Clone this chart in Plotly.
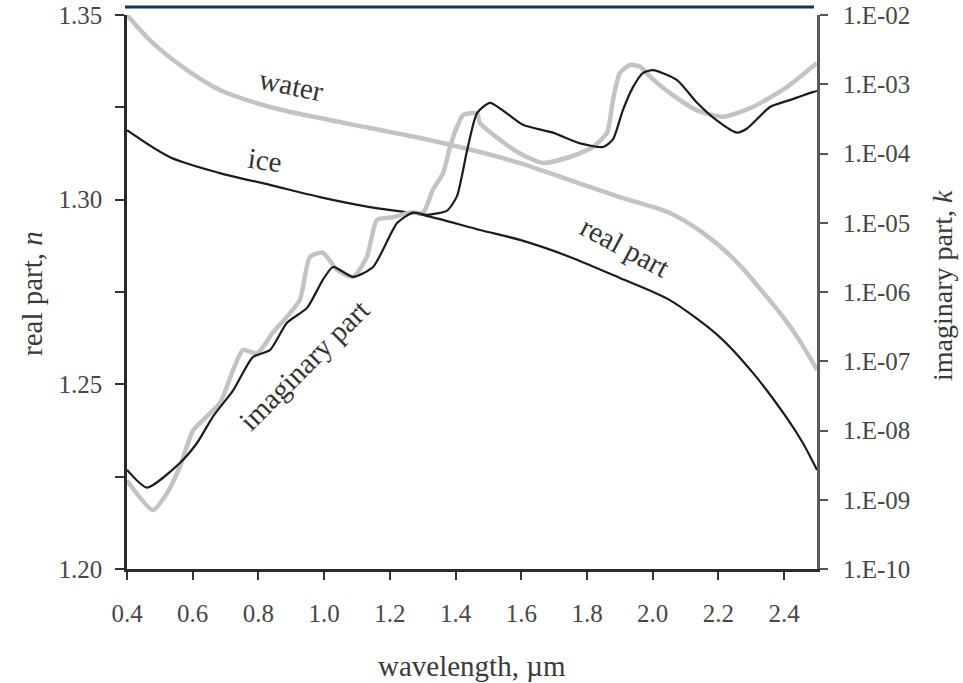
import plotly.graph_objects as go

# ---------------- data ----------------
wl_water_n = [0.40, 0.479, 0.583, 0.683, 0.835, 0.987, 1.139, 1.292, 1.474, 1.596,
              1.748, 1.900, 2.052, 2.153, 2.256, 2.317, 2.408, 2.457, 2.500]
water_n = [1.3500, 1.3424, 1.3351, 1.3297, 1.3251, 1.3221, 1.3194, 1.3167, 1.3129, 1.3099,
           1.3053, 1.3007, 1.2964, 1.2910, 1.2831, 1.2769, 1.2669, 1.2604, 1.2539]

wl_ice_n = [0.40, 0.531, 0.683, 0.835, 0.987, 1.139, 1.292, 1.474, 1.596, 1.748,
            1.900, 2.052, 2.204, 2.305, 2.408, 2.457, 2.500]
ice_n = [1.3188, 1.3115, 1.3072, 1.3040, 1.3007, 1.2980, 1.2960, 1.2918, 1.2891, 1.2845,
         1.2788, 1.2728, 1.2628, 1.2531, 1.2409, 1.2341, 1.2268]

wl_water_k = [0.40, 0.479, 0.522, 0.561, 0.601, 0.643, 0.683, 0.723, 0.753, 0.796,
              0.844, 0.887, 0.926, 0.957, 0.996, 1.039, 1.088, 1.130, 1.161, 1.209,
              1.261, 1.301, 1.331, 1.362, 1.383, 1.404, 1.423, 1.465, 1.474, 1.526,
              1.596, 1.666, 1.748, 1.818, 1.861, 1.879, 1.900, 1.931, 1.961, 1.991,
              2.052, 2.135, 2.214, 2.305, 2.408, 2.487, 2.500]
water_k = [1.9e-9, 7.1e-10, 1.25e-9, 3.0e-9, 1.0e-8, 1.6e-8, 2.5e-8, 7.5e-8, 1.45e-7, 1.3e-7,
           2.6e-7, 4.4e-7, 7.7e-7, 3.2e-6, 3.7e-6, 2.1e-6, 1.65e-6, 3.2e-6, 1.1e-5, 1.2e-5,
           1.4e-5, 1.4e-5, 3.0e-5, 5.2e-5, 1.24e-4, 2.4e-4, 3.6e-4, 3.8e-4, 2.75e-4, 1.7e-4,
           1.0e-4, 7.3e-5, 8.9e-5, 1.24e-4, 2.0e-4, 5.9e-4, 1.45e-3, 1.9e-3, 1.8e-3, 1.3e-3,
           7.5e-4, 4.2e-4, 3.4e-4, 4.7e-4, 9.1e-4, 1.8e-3, 2.0e-3]

wl_ice_k = [0.40, 0.461, 0.561, 0.613, 0.662, 0.723, 0.783, 0.835, 0.887, 0.948,
            0.996, 1.027, 1.088, 1.149, 1.222, 1.270, 1.313, 1.374, 1.404, 1.435,
            1.465, 1.505, 1.605, 1.696, 1.779, 1.849, 1.879, 1.909, 1.940, 1.970,
            2.001, 2.074, 2.135, 2.195, 2.256, 2.287, 2.357, 2.417, 2.487, 2.500]
ice_k = [2.7e-9, 1.5e-9, 3.4e-9, 6.6e-9, 1.6e-8, 3.8e-8, 1.15e-7, 1.45e-7, 3.6e-7, 5.9e-7,
         1.5e-6, 2.3e-6, 1.65e-6, 2.3e-6, 9.9e-6, 1.4e-5, 1.3e-5, 1.5e-5, 2.4e-5, 1.1e-4,
         3.8e-4, 5.4e-4, 2.6e-4, 2.0e-4, 1.4e-4, 1.24e-4, 1.6e-4, 4.2e-4, 9.1e-4, 1.45e-3,
         1.6e-3, 1.15e-3, 5.4e-4, 3.0e-4, 2.0e-4, 2.3e-4, 4.7e-4, 5.9e-4, 7.7e-4, 8.0e-4]

x_ticks = [0.4, 0.6, 0.8, 1.0, 1.2, 1.4, 1.6, 1.8, 2.0, 2.2, 2.4]
x_tick_labels = ["0.4", "0.6", "0.8", "1.0", "1.2", "1.4", "1.6", "1.8", "2.0", "2.2", "2.4"]
n_ticks = [1.20, 1.25, 1.30, 1.35]
n_tick_labels = ["1.20", "1.25", "1.30", "1.35"]
n_minor = [1.225, 1.275, 1.325]
k_ticks = [1e-10, 1e-9, 1e-8, 1e-7, 1e-6, 1e-5, 1e-4, 1e-3, 1e-2]
k_tick_labels = ["1.E-10", "1.E-09", "1.E-08", "1.E-07", "1.E-06", "1.E-05", "1.E-04", "1.E-03", "1.E-02"]

# ---------------- figure ----------------
FONT = "Liberation Serif, Times New Roman, serif"
GRAY = "#c3c3c3"
BLACK = "#1c1c1c"

fig = go.Figure()
fig.add_trace(go.Scatter(x=wl_water_n, y=water_n, mode="lines", yaxis="y",
                         line=dict(color=GRAY, width=4.5, shape="spline", smoothing=0.9),
                         name="water n", showlegend=False))
fig.add_trace(go.Scatter(x=wl_water_k, y=water_k, mode="lines", yaxis="y2",
                         line=dict(color=GRAY, width=4.5, shape="spline", smoothing=0.6),
                         name="water k", showlegend=False))
fig.add_trace(go.Scatter(x=wl_ice_n, y=ice_n, mode="lines", yaxis="y",
                         line=dict(color=BLACK, width=2.2, shape="spline", smoothing=0.8),
                         name="ice n", showlegend=False))
fig.add_trace(go.Scatter(x=wl_ice_k, y=ice_k, mode="lines", yaxis="y2",
                         line=dict(color=BLACK, width=2.2, shape="spline", smoothing=0.6),
                         name="ice k", showlegend=False))

L, R, T, B = 127, 146, 15, 114
W, H = 963, 683
pw, ph = W - L - R, H - T - B


def px(xp):
    return (xp - L) / pw


def py(yp):
    return (H - B - yp) / ph


tickfont = dict(family=FONT, size=25, color="#474747")

fig.update_layout(
    template="none",
    width=W, height=H,
    margin=dict(l=L, r=R, t=T, b=B, autoexpand=False),
    paper_bgcolor="white", plot_bgcolor="white",
    showlegend=False,
    xaxis=dict(range=[0.4, 2.5], tickvals=x_ticks, ticktext=x_tick_labels,
               ticks="outside", ticklen=8, tickwidth=2, tickcolor="#333",
               showline=True, linecolor="#2a2a2a", linewidth=3, automargin=False,
               showgrid=False, zeroline=False, tickfont=tickfont,
               ticklabelstandoff=12),
    yaxis=dict(range=[1.20, 1.35], tickvals=n_ticks, ticktext=n_tick_labels,
               ticks="outside", ticklen=9, tickwidth=2, tickcolor="#333",
               minor=dict(tickvals=n_minor, ticks="outside", ticklen=9, tickwidth=2, tickcolor="#333"),
               showline=True, linecolor="#2a2a2a", linewidth=2.5, automargin=False,
               showgrid=False, zeroline=False, tickfont=tickfont,
               ticklabelstandoff=8),
    yaxis2=dict(type="log", range=[-10, -2], overlaying="y", side="right", anchor="x",
                tickvals=k_ticks, ticktext=k_tick_labels,
                ticks="outside", ticklen=8, tickwidth=2, tickcolor="#555",
                showline=True, linecolor="#5a5a5a", linewidth=3, automargin=False,
                showgrid=False, zeroline=False, tickfont=tickfont,
                ticklabelstandoff=10),
)

titlefont = dict(family=FONT, size=29, color="#3a3a3a")
labelfont = dict(family=FONT, size=29, color="#333333")

annotations = [
    dict(text="real part, <i>n</i>", x=px(32), y=py(294), textangle=-90, font=titlefont),
    dict(text="imaginary part, <i>k</i>", x=px(942), y=py(285), textangle=-90,
         font=dict(family=FONT, size=28, color="#3a3a3a")),
    dict(text="wavelength, µm", x=px(472), y=py(666), textangle=0, font=titlefont),
    dict(text="water", x=px(291), y=py(85), textangle=12, font=labelfont),
    dict(text="ice", x=px(265), y=py(160), textangle=8, font=labelfont),
    dict(text="real part", x=px(625), y=py(247), textangle=28, font=labelfont),
    dict(text="imaginary part", x=px(304), y=py(365), textangle=-45, font=labelfont),
]
for a in annotations:
    a.update(xref="paper", yref="paper", showarrow=False, xanchor="center", yanchor="middle")
fig.update_layout(annotations=annotations)

fig.add_shape(type="line", xref="paper", yref="paper",
              x0=px(125), x1=px(814), y0=py(7), y1=py(7),
              line=dict(color="#123552", width=3))

fig.write_html("out.html")
